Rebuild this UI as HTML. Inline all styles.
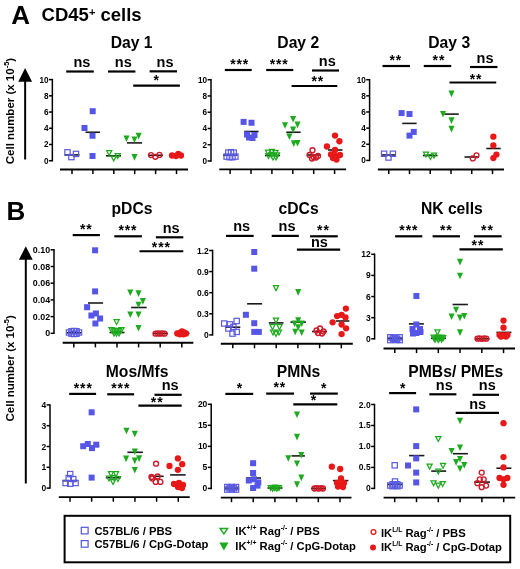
<!DOCTYPE html><html><head><meta charset="utf-8"><style>html,body{margin:0;padding:0;background:#fff;width:520px;height:569px;overflow:hidden}svg{display:block;font-family:"Liberation Sans",sans-serif;font-weight:bold}</style></head><body>
<svg width="520" height="569" viewBox="0 0 520 569" >
<rect width="520" height="569" fill="#fff"/>
<g opacity="0.999">
<text x="11.15" y="23.50" font-size="26" text-anchor="start" >A</text>
<text x="41.6" y="21.3" font-size="18.5">CD45<tspan font-size="11" dy="-5.4">+</tspan><tspan dy="5.4"> cells</tspan></text>
<text x="6.40" y="219.60" font-size="26" text-anchor="start" >B</text>
<text transform="translate(13.7,164.2) rotate(-90)" font-size="11.5">Cell number (x 10<tspan font-size="7.4" dy="-4.4">-5</tspan><tspan dy="4.4">)</tspan></text>
<line x1="25.15" y1="80.70" x2="25.15" y2="159.50" stroke="#000" stroke-width="2.0"/>
<path d="M25.15,68.0 L32.05,81.7 L18.25,81.7 Z" fill="#000"/>
<text transform="translate(13.7,421.5) rotate(-90)" font-size="11.5">Cell number (x 10<tspan font-size="7.4" dy="-4.4">-5</tspan><tspan dy="4.4">)</tspan></text>
<line x1="25.80" y1="258.70" x2="25.80" y2="483.50" stroke="#000" stroke-width="2.0"/>
<path d="M25.8,246.3 L32.7,259.7 L18.9,259.7 Z" fill="#000"/>
<line x1="52.35" y1="78.85" x2="52.35" y2="161.45" stroke="#000" stroke-width="1.5"/>
<line x1="48.95" y1="160.70" x2="52.35" y2="160.70" stroke="#000" stroke-width="1.5"/>
<text x="48.50" y="163.70" font-size="8.2" text-anchor="end" >0</text>
<line x1="48.95" y1="144.48" x2="52.35" y2="144.48" stroke="#000" stroke-width="1.5"/>
<text x="48.50" y="147.48" font-size="8.2" text-anchor="end" >2</text>
<line x1="48.95" y1="128.26" x2="52.35" y2="128.26" stroke="#000" stroke-width="1.5"/>
<text x="48.50" y="131.26" font-size="8.2" text-anchor="end" >4</text>
<line x1="48.95" y1="112.04" x2="52.35" y2="112.04" stroke="#000" stroke-width="1.5"/>
<text x="48.50" y="115.04" font-size="8.2" text-anchor="end" >6</text>
<line x1="48.95" y1="95.82" x2="52.35" y2="95.82" stroke="#000" stroke-width="1.5"/>
<text x="48.50" y="98.82" font-size="8.2" text-anchor="end" >8</text>
<line x1="48.95" y1="79.60" x2="52.35" y2="79.60" stroke="#000" stroke-width="1.5"/>
<text x="48.50" y="82.60" font-size="8.2" text-anchor="end" >10</text>
<line x1="60.00" y1="169.50" x2="188.00" y2="169.50" stroke="#000" stroke-width="1.9"/>
<line x1="72.00" y1="169.50" x2="72.00" y2="174.10" stroke="#000" stroke-width="1.5"/>
<line x1="92.90" y1="169.50" x2="92.90" y2="174.10" stroke="#000" stroke-width="1.5"/>
<line x1="113.80" y1="169.50" x2="113.80" y2="174.10" stroke="#000" stroke-width="1.5"/>
<line x1="134.70" y1="169.50" x2="134.70" y2="174.10" stroke="#000" stroke-width="1.5"/>
<line x1="155.60" y1="169.50" x2="155.60" y2="174.10" stroke="#000" stroke-width="1.5"/>
<line x1="176.50" y1="169.50" x2="176.50" y2="174.10" stroke="#000" stroke-width="1.5"/>
<line x1="64.50" y1="154.90" x2="79.50" y2="154.90" stroke="#1a1a1a" stroke-width="1.6"/>
<line x1="85.50" y1="132.25" x2="100.00" y2="132.25" stroke="#1a1a1a" stroke-width="1.6"/>
<line x1="106.00" y1="155.80" x2="121.00" y2="155.80" stroke="#1a1a1a" stroke-width="1.6"/>
<line x1="127.00" y1="142.90" x2="142.10" y2="142.90" stroke="#1a1a1a" stroke-width="1.6"/>
<line x1="148.00" y1="155.30" x2="163.00" y2="155.30" stroke="#1a1a1a" stroke-width="1.6"/>
<line x1="169.00" y1="155.50" x2="184.00" y2="155.50" stroke="#1a1a1a" stroke-width="1.6"/>
<rect x="64.85" y="149.65" width="5.30" height="5.30" fill="none" stroke="#5a5ae0" stroke-width="1.2"/>
<rect x="73.35" y="151.25" width="5.30" height="5.30" fill="none" stroke="#5a5ae0" stroke-width="1.2"/>
<rect x="68.75" y="154.45" width="5.30" height="5.30" fill="none" stroke="#5a5ae0" stroke-width="1.2"/>
<rect x="89.70" y="108.20" width="6.00" height="6.00" fill="#5555e8"/>
<rect x="81.50" y="125.00" width="6.00" height="6.00" fill="#5555e8"/>
<rect x="89.50" y="132.75" width="6.00" height="6.00" fill="#5555e8"/>
<rect x="89.50" y="153.00" width="6.00" height="6.00" fill="#5555e8"/>
<path d="M105.60,150.00 L112.80,150.00 L109.20,156.80 Z M109.20,154.13 L110.72,151.25 L107.68,151.25 Z" fill="#1eaa1e" fill-rule="evenodd"/>
<path d="M110.10,155.40 L117.30,155.40 L113.70,162.20 Z M113.70,159.53 L115.22,156.65 L112.18,156.65 Z" fill="#1eaa1e" fill-rule="evenodd"/>
<path d="M114.10,153.00 L121.30,153.00 L117.70,159.80 Z M117.70,157.13 L119.22,154.25 L116.18,154.25 Z" fill="#1eaa1e" fill-rule="evenodd"/>
<path d="M123.40,135.50 L129.50,135.50 L126.45,142.10 Z" fill="#1eaa1e"/>
<path d="M131.40,136.50 L137.50,136.50 L134.45,143.10 Z" fill="#1eaa1e"/>
<path d="M135.60,132.85 L141.70,132.85 L138.65,139.45 Z" fill="#1eaa1e"/>
<path d="M131.45,154.05 L137.55,154.05 L134.50,160.65 Z" fill="#1eaa1e"/>
<circle cx="151.00" cy="155.10" r="2.47" fill="none" stroke="#d01a28" stroke-width="1.35"/>
<circle cx="155.30" cy="156.80" r="2.47" fill="none" stroke="#d01a28" stroke-width="1.35"/>
<circle cx="159.40" cy="154.90" r="2.47" fill="none" stroke="#d01a28" stroke-width="1.35"/>
<circle cx="172.00" cy="155.50" r="3.15" fill="#e81818"/>
<circle cx="176.00" cy="156.00" r="3.15" fill="#e81818"/>
<circle cx="178.30" cy="153.80" r="3.15" fill="#e81818"/>
<circle cx="181.00" cy="155.50" r="3.15" fill="#e81818"/>
<text x="131.60" y="47.60" font-size="15.7" text-anchor="middle" >Day 1</text>
<line x1="66.20" y1="71.50" x2="93.80" y2="71.50" stroke="#000" stroke-width="2.2"/>
<text x="81.90" y="67.24" font-size="14.5" text-anchor="middle" >ns</text>
<line x1="108.00" y1="71.50" x2="135.40" y2="71.50" stroke="#000" stroke-width="2.2"/>
<text x="123.25" y="67.14" font-size="14.5" text-anchor="middle" >ns</text>
<line x1="149.60" y1="71.35" x2="177.00" y2="71.35" stroke="#000" stroke-width="2.2"/>
<text x="165.05" y="66.84" font-size="14.5" text-anchor="middle" >ns</text>
<line x1="133.20" y1="85.60" x2="179.90" y2="85.60" stroke="#000" stroke-width="2.2"/>
<text x="153.38" y="84.94" font-size="14" letter-spacing="0.9">*</text>
<line x1="211.00" y1="78.95" x2="211.00" y2="161.75" stroke="#000" stroke-width="1.5"/>
<line x1="207.60" y1="161.00" x2="211.00" y2="161.00" stroke="#000" stroke-width="1.5"/>
<text x="207.15" y="164.00" font-size="8.2" text-anchor="end" >0</text>
<line x1="207.60" y1="144.74" x2="211.00" y2="144.74" stroke="#000" stroke-width="1.5"/>
<text x="207.15" y="147.74" font-size="8.2" text-anchor="end" >2</text>
<line x1="207.60" y1="128.48" x2="211.00" y2="128.48" stroke="#000" stroke-width="1.5"/>
<text x="207.15" y="131.48" font-size="8.2" text-anchor="end" >4</text>
<line x1="207.60" y1="112.22" x2="211.00" y2="112.22" stroke="#000" stroke-width="1.5"/>
<text x="207.15" y="115.22" font-size="8.2" text-anchor="end" >6</text>
<line x1="207.60" y1="95.96" x2="211.00" y2="95.96" stroke="#000" stroke-width="1.5"/>
<text x="207.15" y="98.96" font-size="8.2" text-anchor="end" >8</text>
<line x1="207.60" y1="79.70" x2="211.00" y2="79.70" stroke="#000" stroke-width="1.5"/>
<text x="207.15" y="82.70" font-size="8.2" text-anchor="end" >10</text>
<line x1="219.30" y1="169.40" x2="346.10" y2="169.40" stroke="#000" stroke-width="1.9"/>
<line x1="230.10" y1="169.40" x2="230.10" y2="174.00" stroke="#000" stroke-width="1.5"/>
<line x1="251.00" y1="169.40" x2="251.00" y2="174.00" stroke="#000" stroke-width="1.5"/>
<line x1="271.90" y1="169.40" x2="271.90" y2="174.00" stroke="#000" stroke-width="1.5"/>
<line x1="292.80" y1="169.40" x2="292.80" y2="174.00" stroke="#000" stroke-width="1.5"/>
<line x1="313.70" y1="169.40" x2="313.70" y2="174.00" stroke="#000" stroke-width="1.5"/>
<line x1="334.60" y1="169.40" x2="334.60" y2="174.00" stroke="#000" stroke-width="1.5"/>
<line x1="223.00" y1="155.30" x2="237.50" y2="155.30" stroke="#1a1a1a" stroke-width="1.6"/>
<line x1="244.25" y1="131.50" x2="258.60" y2="131.50" stroke="#1a1a1a" stroke-width="1.6"/>
<line x1="265.00" y1="155.50" x2="280.00" y2="155.50" stroke="#1a1a1a" stroke-width="1.6"/>
<line x1="286.25" y1="132.25" x2="300.60" y2="132.25" stroke="#1a1a1a" stroke-width="1.6"/>
<line x1="307.00" y1="155.00" x2="321.00" y2="155.00" stroke="#1a1a1a" stroke-width="1.6"/>
<line x1="328.00" y1="150.00" x2="342.50" y2="150.00" stroke="#1a1a1a" stroke-width="1.6"/>
<rect x="225.65" y="149.95" width="5.30" height="5.30" fill="none" stroke="#5a5ae0" stroke-width="1.2"/>
<rect x="228.35" y="149.55" width="5.30" height="5.30" fill="none" stroke="#5a5ae0" stroke-width="1.2"/>
<rect x="231.05" y="149.95" width="5.30" height="5.30" fill="none" stroke="#5a5ae0" stroke-width="1.2"/>
<rect x="223.95" y="153.95" width="5.30" height="5.30" fill="none" stroke="#5a5ae0" stroke-width="1.2"/>
<rect x="226.85" y="154.55" width="5.30" height="5.30" fill="none" stroke="#5a5ae0" stroke-width="1.2"/>
<rect x="229.85" y="154.55" width="5.30" height="5.30" fill="none" stroke="#5a5ae0" stroke-width="1.2"/>
<rect x="232.75" y="153.95" width="5.30" height="5.30" fill="none" stroke="#5a5ae0" stroke-width="1.2"/>
<rect x="240.60" y="118.90" width="6.00" height="6.00" fill="#5555e8"/>
<rect x="248.50" y="119.75" width="6.00" height="6.00" fill="#5555e8"/>
<rect x="244.00" y="131.50" width="6.00" height="6.00" fill="#5555e8"/>
<rect x="251.50" y="132.00" width="6.00" height="6.00" fill="#5555e8"/>
<rect x="246.00" y="134.50" width="6.00" height="6.00" fill="#5555e8"/>
<rect x="249.50" y="135.00" width="6.00" height="6.00" fill="#5555e8"/>
<path d="M264.40,149.50 L271.60,149.50 L268.00,156.30 Z M268.00,153.63 L269.52,150.75 L266.48,150.75 Z" fill="#1eaa1e" fill-rule="evenodd"/>
<path d="M268.40,148.80 L275.60,148.80 L272.00,155.60 Z M272.00,152.93 L273.52,150.05 L270.48,150.05 Z" fill="#1eaa1e" fill-rule="evenodd"/>
<path d="M271.90,150.00 L279.10,150.00 L275.50,156.80 Z M275.50,154.13 L277.02,151.25 L273.98,151.25 Z" fill="#1eaa1e" fill-rule="evenodd"/>
<path d="M273.40,152.20 L280.60,152.20 L277.00,159.00 Z M277.00,156.33 L278.52,153.45 L275.48,153.45 Z" fill="#1eaa1e" fill-rule="evenodd"/>
<path d="M264.90,153.00 L272.10,153.00 L268.50,159.80 Z M268.50,157.13 L270.02,154.25 L266.98,154.25 Z" fill="#1eaa1e" fill-rule="evenodd"/>
<path d="M267.90,152.00 L275.10,152.00 L271.50,158.80 Z M271.50,156.13 L273.02,153.25 L269.98,153.25 Z" fill="#1eaa1e" fill-rule="evenodd"/>
<path d="M269.40,154.50 L276.60,154.50 L273.00,161.30 Z M273.00,158.63 L274.52,155.75 L271.48,155.75 Z" fill="#1eaa1e" fill-rule="evenodd"/>
<path d="M272.40,154.50 L279.60,154.50 L276.00,161.30 Z M276.00,158.63 L277.52,155.75 L274.48,155.75 Z" fill="#1eaa1e" fill-rule="evenodd"/>
<path d="M290.05,115.95 L296.15,115.95 L293.10,122.55 Z" fill="#1eaa1e"/>
<path d="M281.95,122.20 L288.05,122.20 L285.00,128.80 Z" fill="#1eaa1e"/>
<path d="M294.45,121.60 L300.55,121.60 L297.50,128.20 Z" fill="#1eaa1e"/>
<path d="M290.05,126.60 L296.15,126.60 L293.10,133.20 Z" fill="#1eaa1e"/>
<path d="M286.35,133.45 L292.45,133.45 L289.40,140.05 Z" fill="#1eaa1e"/>
<path d="M290.70,140.30 L296.80,140.30 L293.75,146.90 Z" fill="#1eaa1e"/>
<path d="M294.45,139.95 L300.55,139.95 L297.50,146.55 Z" fill="#1eaa1e"/>
<circle cx="312.50" cy="150.25" r="2.47" fill="none" stroke="#d01a28" stroke-width="1.35"/>
<circle cx="309.50" cy="155.00" r="2.47" fill="none" stroke="#d01a28" stroke-width="1.35"/>
<circle cx="313.50" cy="157.00" r="2.47" fill="none" stroke="#d01a28" stroke-width="1.35"/>
<circle cx="318.00" cy="156.00" r="2.47" fill="none" stroke="#d01a28" stroke-width="1.35"/>
<circle cx="312.00" cy="158.50" r="2.47" fill="none" stroke="#d01a28" stroke-width="1.35"/>
<circle cx="316.00" cy="157.50" r="2.47" fill="none" stroke="#d01a28" stroke-width="1.35"/>
<circle cx="335.00" cy="135.60" r="3.15" fill="#e81818"/>
<circle cx="339.40" cy="141.25" r="3.15" fill="#e81818"/>
<circle cx="326.90" cy="146.50" r="3.15" fill="#e81818"/>
<circle cx="335.00" cy="150.00" r="3.15" fill="#e81818"/>
<circle cx="331.00" cy="154.50" r="3.15" fill="#e81818"/>
<circle cx="336.00" cy="156.00" r="3.15" fill="#e81818"/>
<circle cx="340.00" cy="155.00" r="3.15" fill="#e81818"/>
<circle cx="333.00" cy="158.00" r="3.15" fill="#e81818"/>
<circle cx="336.50" cy="159.50" r="3.15" fill="#e81818"/>
<text x="298.25" y="47.60" font-size="15.7" text-anchor="middle" >Day 2</text>
<line x1="224.80" y1="70.00" x2="251.70" y2="70.00" stroke="#000" stroke-width="2.2"/>
<text x="230.18" y="68.64" font-size="14" letter-spacing="0.9">***</text>
<line x1="266.20" y1="70.00" x2="293.30" y2="70.00" stroke="#000" stroke-width="2.2"/>
<text x="269.63" y="68.64" font-size="14" letter-spacing="0.9">***</text>
<line x1="312.00" y1="70.50" x2="339.00" y2="70.50" stroke="#000" stroke-width="2.2"/>
<text x="327.30" y="66.34" font-size="14.5" text-anchor="middle" >ns</text>
<line x1="291.60" y1="86.00" x2="337.30" y2="86.00" stroke="#000" stroke-width="2.2"/>
<text x="311.50" y="85.94" font-size="14" letter-spacing="0.9">**</text>
<line x1="369.60" y1="78.95" x2="369.60" y2="161.15" stroke="#000" stroke-width="1.5"/>
<line x1="366.20" y1="160.40" x2="369.60" y2="160.40" stroke="#000" stroke-width="1.5"/>
<text x="365.75" y="163.40" font-size="8.2" text-anchor="end" >0</text>
<line x1="366.20" y1="144.26" x2="369.60" y2="144.26" stroke="#000" stroke-width="1.5"/>
<text x="365.75" y="147.26" font-size="8.2" text-anchor="end" >2</text>
<line x1="366.20" y1="128.12" x2="369.60" y2="128.12" stroke="#000" stroke-width="1.5"/>
<text x="365.75" y="131.12" font-size="8.2" text-anchor="end" >4</text>
<line x1="366.20" y1="111.98" x2="369.60" y2="111.98" stroke="#000" stroke-width="1.5"/>
<text x="365.75" y="114.98" font-size="8.2" text-anchor="end" >6</text>
<line x1="366.20" y1="95.84" x2="369.60" y2="95.84" stroke="#000" stroke-width="1.5"/>
<text x="365.75" y="98.84" font-size="8.2" text-anchor="end" >8</text>
<line x1="366.20" y1="79.70" x2="369.60" y2="79.70" stroke="#000" stroke-width="1.5"/>
<text x="365.75" y="82.70" font-size="8.2" text-anchor="end" >10</text>
<line x1="377.90" y1="169.50" x2="504.00" y2="169.50" stroke="#000" stroke-width="1.9"/>
<line x1="388.75" y1="169.50" x2="388.75" y2="174.10" stroke="#000" stroke-width="1.5"/>
<line x1="409.50" y1="169.50" x2="409.50" y2="174.10" stroke="#000" stroke-width="1.5"/>
<line x1="430.25" y1="169.50" x2="430.25" y2="174.10" stroke="#000" stroke-width="1.5"/>
<line x1="451.00" y1="169.50" x2="451.00" y2="174.10" stroke="#000" stroke-width="1.5"/>
<line x1="471.75" y1="169.50" x2="471.75" y2="174.10" stroke="#000" stroke-width="1.5"/>
<line x1="492.50" y1="169.50" x2="492.50" y2="174.10" stroke="#000" stroke-width="1.5"/>
<line x1="381.60" y1="155.00" x2="396.00" y2="155.00" stroke="#1a1a1a" stroke-width="1.6"/>
<line x1="402.25" y1="123.40" x2="416.60" y2="123.40" stroke="#1a1a1a" stroke-width="1.6"/>
<line x1="423.00" y1="155.50" x2="437.50" y2="155.50" stroke="#1a1a1a" stroke-width="1.6"/>
<line x1="444.40" y1="114.10" x2="458.80" y2="114.10" stroke="#1a1a1a" stroke-width="1.6"/>
<line x1="464.50" y1="157.00" x2="479.00" y2="157.00" stroke="#1a1a1a" stroke-width="1.6"/>
<line x1="486.30" y1="148.50" x2="500.70" y2="148.50" stroke="#1a1a1a" stroke-width="1.6"/>
<rect x="381.45" y="151.10" width="5.30" height="5.30" fill="none" stroke="#5a5ae0" stroke-width="1.2"/>
<rect x="390.25" y="151.10" width="5.30" height="5.30" fill="none" stroke="#5a5ae0" stroke-width="1.2"/>
<rect x="385.85" y="154.85" width="5.30" height="5.30" fill="none" stroke="#5a5ae0" stroke-width="1.2"/>
<rect x="398.60" y="110.10" width="6.00" height="6.00" fill="#5555e8"/>
<rect x="406.50" y="111.00" width="6.00" height="6.00" fill="#5555e8"/>
<rect x="410.75" y="128.90" width="6.00" height="6.00" fill="#5555e8"/>
<rect x="406.50" y="132.60" width="6.00" height="6.00" fill="#5555e8"/>
<path d="M422.40,151.50 L429.60,151.50 L426.00,158.30 Z M426.00,155.63 L427.52,152.75 L424.48,152.75 Z" fill="#1eaa1e" fill-rule="evenodd"/>
<path d="M426.90,154.00 L434.10,154.00 L430.50,160.80 Z M430.50,158.13 L432.02,155.25 L428.98,155.25 Z" fill="#1eaa1e" fill-rule="evenodd"/>
<path d="M430.40,152.50 L437.60,152.50 L434.00,159.30 Z M434.00,156.63 L435.52,153.75 L432.48,153.75 Z" fill="#1eaa1e" fill-rule="evenodd"/>
<path d="M448.45,90.60 L454.55,90.60 L451.50,97.20 Z" fill="#1eaa1e"/>
<path d="M439.95,111.00 L446.05,111.00 L443.00,117.60 Z" fill="#1eaa1e"/>
<path d="M448.45,117.30 L454.55,117.30 L451.50,123.90 Z" fill="#1eaa1e"/>
<path d="M448.45,125.80 L454.55,125.80 L451.50,132.40 Z" fill="#1eaa1e"/>
<circle cx="472.80" cy="158.40" r="2.47" fill="none" stroke="#d01a28" stroke-width="1.35"/>
<circle cx="476.50" cy="155.30" r="2.47" fill="none" stroke="#d01a28" stroke-width="1.35"/>
<circle cx="493.35" cy="136.70" r="3.15" fill="#e81818"/>
<circle cx="493.35" cy="145.40" r="3.15" fill="#e81818"/>
<circle cx="496.40" cy="154.60" r="3.15" fill="#e81818"/>
<circle cx="493.35" cy="158.10" r="3.15" fill="#e81818"/>
<text x="449.20" y="47.60" font-size="15.7" text-anchor="middle" >Day 3</text>
<line x1="382.50" y1="66.00" x2="410.00" y2="66.00" stroke="#000" stroke-width="2.2"/>
<text x="389.50" y="64.53" font-size="14" letter-spacing="0.9">**</text>
<line x1="423.75" y1="66.00" x2="451.25" y2="66.00" stroke="#000" stroke-width="2.2"/>
<text x="432.60" y="64.53" font-size="14" letter-spacing="0.9">**</text>
<line x1="470.00" y1="67.00" x2="497.50" y2="67.00" stroke="#000" stroke-width="2.2"/>
<text x="485.00" y="63.34" font-size="14.5" text-anchor="middle" >ns</text>
<line x1="449.50" y1="82.50" x2="496.25" y2="82.50" stroke="#000" stroke-width="2.2"/>
<text x="469.70" y="83.53" font-size="14" letter-spacing="0.9">**</text>
<line x1="54.00" y1="249.05" x2="54.00" y2="334.05" stroke="#000" stroke-width="1.5"/>
<line x1="50.60" y1="333.30" x2="54.00" y2="333.30" stroke="#000" stroke-width="1.5"/>
<text x="50.15" y="336.30" font-size="8.9" text-anchor="end" >0</text>
<line x1="50.60" y1="316.60" x2="54.00" y2="316.60" stroke="#000" stroke-width="1.5"/>
<text x="50.15" y="319.60" font-size="8.9" text-anchor="end" >0.02</text>
<line x1="50.60" y1="299.90" x2="54.00" y2="299.90" stroke="#000" stroke-width="1.5"/>
<text x="50.15" y="302.90" font-size="8.9" text-anchor="end" >0.04</text>
<line x1="50.60" y1="283.20" x2="54.00" y2="283.20" stroke="#000" stroke-width="1.5"/>
<text x="50.15" y="286.20" font-size="8.9" text-anchor="end" >0.06</text>
<line x1="50.60" y1="266.50" x2="54.00" y2="266.50" stroke="#000" stroke-width="1.5"/>
<text x="50.15" y="269.50" font-size="8.9" text-anchor="end" >0.08</text>
<line x1="50.60" y1="249.80" x2="54.00" y2="249.80" stroke="#000" stroke-width="1.5"/>
<text x="50.15" y="252.80" font-size="8.9" text-anchor="end" >0.10</text>
<line x1="62.70" y1="342.80" x2="193.30" y2="342.80" stroke="#000" stroke-width="1.9"/>
<line x1="73.80" y1="342.80" x2="73.80" y2="347.40" stroke="#000" stroke-width="1.5"/>
<line x1="95.40" y1="342.80" x2="95.40" y2="347.40" stroke="#000" stroke-width="1.5"/>
<line x1="117.00" y1="342.80" x2="117.00" y2="347.40" stroke="#000" stroke-width="1.5"/>
<line x1="138.60" y1="342.80" x2="138.60" y2="347.40" stroke="#000" stroke-width="1.5"/>
<line x1="160.20" y1="342.80" x2="160.20" y2="347.40" stroke="#000" stroke-width="1.5"/>
<line x1="181.80" y1="342.80" x2="181.80" y2="347.40" stroke="#000" stroke-width="1.5"/>
<line x1="67.00" y1="332.80" x2="81.50" y2="332.80" stroke="#1a1a1a" stroke-width="1.6"/>
<line x1="88.00" y1="303.00" x2="103.10" y2="303.00" stroke="#1a1a1a" stroke-width="1.6"/>
<line x1="109.50" y1="332.50" x2="124.50" y2="332.50" stroke="#1a1a1a" stroke-width="1.6"/>
<line x1="131.20" y1="307.50" x2="146.70" y2="307.50" stroke="#1a1a1a" stroke-width="1.6"/>
<line x1="153.00" y1="333.50" x2="168.00" y2="333.50" stroke="#1a1a1a" stroke-width="1.6"/>
<line x1="174.50" y1="333.30" x2="189.50" y2="333.30" stroke="#1a1a1a" stroke-width="1.6"/>
<rect x="66.35" y="329.85" width="5.30" height="5.30" fill="none" stroke="#5a5ae0" stroke-width="1.2"/>
<rect x="68.85" y="328.65" width="5.30" height="5.30" fill="none" stroke="#5a5ae0" stroke-width="1.2"/>
<rect x="71.35" y="328.35" width="5.30" height="5.30" fill="none" stroke="#5a5ae0" stroke-width="1.2"/>
<rect x="73.85" y="328.65" width="5.30" height="5.30" fill="none" stroke="#5a5ae0" stroke-width="1.2"/>
<rect x="76.35" y="329.85" width="5.30" height="5.30" fill="none" stroke="#5a5ae0" stroke-width="1.2"/>
<rect x="68.85" y="331.05" width="5.30" height="5.30" fill="none" stroke="#5a5ae0" stroke-width="1.2"/>
<rect x="71.35" y="331.35" width="5.30" height="5.30" fill="none" stroke="#5a5ae0" stroke-width="1.2"/>
<rect x="73.85" y="331.05" width="5.30" height="5.30" fill="none" stroke="#5a5ae0" stroke-width="1.2"/>
<rect x="92.10" y="247.30" width="6.00" height="6.00" fill="#5555e8"/>
<rect x="92.10" y="288.40" width="6.00" height="6.00" fill="#5555e8"/>
<rect x="84.10" y="304.20" width="6.00" height="6.00" fill="#5555e8"/>
<rect x="88.40" y="312.50" width="6.00" height="6.00" fill="#5555e8"/>
<rect x="92.90" y="310.50" width="6.00" height="6.00" fill="#5555e8"/>
<rect x="97.10" y="315.50" width="6.00" height="6.00" fill="#5555e8"/>
<rect x="92.40" y="320.50" width="6.00" height="6.00" fill="#5555e8"/>
<path d="M113.00,319.00 L120.20,319.00 L116.60,325.80 Z M116.60,323.13 L118.12,320.25 L115.08,320.25 Z" fill="#1eaa1e" fill-rule="evenodd"/>
<path d="M107.90,327.00 L115.10,327.00 L111.50,333.80 Z M111.50,331.13 L113.02,328.25 L109.98,328.25 Z" fill="#1eaa1e" fill-rule="evenodd"/>
<path d="M110.20,327.80 L117.40,327.80 L113.80,334.60 Z M113.80,331.93 L115.32,329.05 L112.28,329.05 Z" fill="#1eaa1e" fill-rule="evenodd"/>
<path d="M112.90,328.00 L120.10,328.00 L116.50,334.80 Z M116.50,332.13 L118.02,329.25 L114.98,329.25 Z" fill="#1eaa1e" fill-rule="evenodd"/>
<path d="M115.60,327.80 L122.80,327.80 L119.20,334.60 Z M119.20,331.93 L120.72,329.05 L117.68,329.05 Z" fill="#1eaa1e" fill-rule="evenodd"/>
<path d="M117.90,327.00 L125.10,327.00 L121.50,333.80 Z M121.50,331.13 L123.02,328.25 L119.98,328.25 Z" fill="#1eaa1e" fill-rule="evenodd"/>
<path d="M110.40,330.50 L117.60,330.50 L114.00,337.30 Z M114.00,334.63 L115.52,331.75 L112.48,331.75 Z" fill="#1eaa1e" fill-rule="evenodd"/>
<path d="M112.90,330.80 L120.10,330.80 L116.50,337.60 Z M116.50,334.93 L118.02,332.05 L114.98,332.05 Z" fill="#1eaa1e" fill-rule="evenodd"/>
<path d="M115.40,330.50 L122.60,330.50 L119.00,337.30 Z M119.00,334.63 L120.52,331.75 L117.48,331.75 Z" fill="#1eaa1e" fill-rule="evenodd"/>
<path d="M127.25,289.50 L133.35,289.50 L130.30,296.10 Z" fill="#1eaa1e"/>
<path d="M135.45,290.30 L141.55,290.30 L138.50,296.90 Z" fill="#1eaa1e"/>
<path d="M139.85,298.10 L145.95,298.10 L142.90,304.70 Z" fill="#1eaa1e"/>
<path d="M135.45,301.70 L141.55,301.70 L138.50,308.30 Z" fill="#1eaa1e"/>
<path d="M127.25,311.50 L133.35,311.50 L130.30,318.10 Z" fill="#1eaa1e"/>
<path d="M135.45,311.50 L141.55,311.50 L138.50,318.10 Z" fill="#1eaa1e"/>
<path d="M135.45,324.90 L141.55,324.90 L138.50,331.50 Z" fill="#1eaa1e"/>
<circle cx="155.50" cy="333.70" r="2.47" fill="none" stroke="#d01a28" stroke-width="1.35"/>
<circle cx="157.75" cy="333.40" r="2.47" fill="none" stroke="#d01a28" stroke-width="1.35"/>
<circle cx="160.00" cy="333.70" r="2.47" fill="none" stroke="#d01a28" stroke-width="1.35"/>
<circle cx="162.25" cy="333.40" r="2.47" fill="none" stroke="#d01a28" stroke-width="1.35"/>
<circle cx="164.50" cy="333.70" r="2.47" fill="none" stroke="#d01a28" stroke-width="1.35"/>
<circle cx="177.30" cy="333.50" r="3.15" fill="#e81818"/>
<circle cx="180.00" cy="332.80" r="3.15" fill="#e81818"/>
<circle cx="182.00" cy="331.30" r="3.15" fill="#e81818"/>
<circle cx="184.00" cy="332.50" r="3.15" fill="#e81818"/>
<circle cx="186.00" cy="333.50" r="3.15" fill="#e81818"/>
<circle cx="180.00" cy="334.30" r="3.15" fill="#e81818"/>
<circle cx="183.50" cy="334.30" r="3.15" fill="#e81818"/>
<text x="132.00" y="214.00" font-size="15.7" text-anchor="middle" >pDCs</text>
<line x1="72.70" y1="235.10" x2="99.90" y2="235.10" stroke="#000" stroke-width="2.2"/>
<text x="80.00" y="234.23" font-size="14" letter-spacing="0.9">**</text>
<line x1="114.30" y1="236.30" x2="141.90" y2="236.30" stroke="#000" stroke-width="2.2"/>
<text x="118.43" y="235.44" font-size="14" letter-spacing="0.9">***</text>
<line x1="155.90" y1="237.30" x2="183.30" y2="237.30" stroke="#000" stroke-width="2.2"/>
<text x="171.10" y="233.09" font-size="14.5" text-anchor="middle" >ns</text>
<line x1="139.50" y1="251.25" x2="183.30" y2="251.25" stroke="#000" stroke-width="2.2"/>
<text x="151.83" y="251.53" font-size="14" letter-spacing="0.9">***</text>
<line x1="212.60" y1="249.75" x2="212.60" y2="335.65" stroke="#000" stroke-width="1.5"/>
<line x1="209.20" y1="334.90" x2="212.60" y2="334.90" stroke="#000" stroke-width="1.5"/>
<text x="208.75" y="337.90" font-size="8.5" text-anchor="end" >0</text>
<line x1="209.20" y1="313.80" x2="212.60" y2="313.80" stroke="#000" stroke-width="1.5"/>
<text x="208.75" y="316.80" font-size="8.5" text-anchor="end" >0.3</text>
<line x1="209.20" y1="292.70" x2="212.60" y2="292.70" stroke="#000" stroke-width="1.5"/>
<text x="208.75" y="295.70" font-size="8.5" text-anchor="end" >0.6</text>
<line x1="209.20" y1="271.60" x2="212.60" y2="271.60" stroke="#000" stroke-width="1.5"/>
<text x="208.75" y="274.60" font-size="8.5" text-anchor="end" >0.9</text>
<line x1="209.20" y1="250.50" x2="212.60" y2="250.50" stroke="#000" stroke-width="1.5"/>
<text x="208.75" y="253.50" font-size="8.5" text-anchor="end" >1.2</text>
<line x1="220.80" y1="343.70" x2="352.80" y2="343.70" stroke="#000" stroke-width="1.9"/>
<line x1="232.80" y1="343.70" x2="232.80" y2="348.30" stroke="#000" stroke-width="1.5"/>
<line x1="254.50" y1="343.70" x2="254.50" y2="348.30" stroke="#000" stroke-width="1.5"/>
<line x1="276.20" y1="343.70" x2="276.20" y2="348.30" stroke="#000" stroke-width="1.5"/>
<line x1="297.90" y1="343.70" x2="297.90" y2="348.30" stroke="#000" stroke-width="1.5"/>
<line x1="319.60" y1="343.70" x2="319.60" y2="348.30" stroke="#000" stroke-width="1.5"/>
<line x1="341.30" y1="343.70" x2="341.30" y2="348.30" stroke="#000" stroke-width="1.5"/>
<line x1="225.30" y1="327.20" x2="240.30" y2="327.20" stroke="#1a1a1a" stroke-width="1.6"/>
<line x1="247.10" y1="303.80" x2="262.10" y2="303.80" stroke="#1a1a1a" stroke-width="1.6"/>
<line x1="268.80" y1="322.90" x2="283.50" y2="322.90" stroke="#1a1a1a" stroke-width="1.6"/>
<line x1="290.50" y1="322.10" x2="305.90" y2="322.10" stroke="#1a1a1a" stroke-width="1.6"/>
<line x1="312.00" y1="331.50" x2="327.00" y2="331.50" stroke="#1a1a1a" stroke-width="1.6"/>
<line x1="335.80" y1="321.00" x2="349.40" y2="321.00" stroke="#1a1a1a" stroke-width="1.6"/>
<rect x="221.55" y="320.85" width="5.30" height="5.30" fill="none" stroke="#5a5ae0" stroke-width="1.2"/>
<rect x="227.35" y="321.75" width="5.30" height="5.30" fill="none" stroke="#5a5ae0" stroke-width="1.2"/>
<rect x="234.05" y="318.35" width="5.30" height="5.30" fill="none" stroke="#5a5ae0" stroke-width="1.2"/>
<rect x="225.75" y="325.85" width="5.30" height="5.30" fill="none" stroke="#5a5ae0" stroke-width="1.2"/>
<rect x="234.05" y="329.25" width="5.30" height="5.30" fill="none" stroke="#5a5ae0" stroke-width="1.2"/>
<rect x="229.85" y="330.95" width="5.30" height="5.30" fill="none" stroke="#5a5ae0" stroke-width="1.2"/>
<rect x="230.75" y="324.25" width="5.30" height="5.30" fill="none" stroke="#5a5ae0" stroke-width="1.2"/>
<rect x="251.25" y="249.00" width="6.00" height="6.00" fill="#5555e8"/>
<rect x="251.25" y="265.70" width="6.00" height="6.00" fill="#5555e8"/>
<rect x="242.90" y="311.80" width="6.00" height="6.00" fill="#5555e8"/>
<rect x="251.25" y="320.20" width="6.00" height="6.00" fill="#5555e8"/>
<rect x="251.25" y="328.90" width="6.00" height="6.00" fill="#5555e8"/>
<rect x="255.80" y="328.90" width="6.00" height="6.00" fill="#5555e8"/>
<path d="M272.40,285.10 L279.60,285.10 L276.00,291.90 Z M276.00,289.23 L277.52,286.35 L274.48,286.35 Z" fill="#1eaa1e" fill-rule="evenodd"/>
<path d="M272.40,317.50 L279.60,317.50 L276.00,324.30 Z M276.00,321.63 L277.52,318.75 L274.48,318.75 Z" fill="#1eaa1e" fill-rule="evenodd"/>
<path d="M268.90,324.00 L276.10,324.00 L272.50,330.80 Z M272.50,328.13 L274.02,325.25 L270.98,325.25 Z" fill="#1eaa1e" fill-rule="evenodd"/>
<path d="M275.90,324.00 L283.10,324.00 L279.50,330.80 Z M279.50,328.13 L281.02,325.25 L277.98,325.25 Z" fill="#1eaa1e" fill-rule="evenodd"/>
<path d="M269.40,329.50 L276.60,329.50 L273.00,336.30 Z M273.00,333.63 L274.52,330.75 L271.48,330.75 Z" fill="#1eaa1e" fill-rule="evenodd"/>
<path d="M275.40,329.50 L282.60,329.50 L279.00,336.30 Z M279.00,333.63 L280.52,330.75 L277.48,330.75 Z" fill="#1eaa1e" fill-rule="evenodd"/>
<path d="M272.40,331.00 L279.60,331.00 L276.00,337.80 Z M276.00,335.13 L277.52,332.25 L274.48,332.25 Z" fill="#1eaa1e" fill-rule="evenodd"/>
<path d="M295.15,289.10 L301.25,289.10 L298.20,295.70 Z" fill="#1eaa1e"/>
<path d="M295.15,317.20 L301.25,317.20 L298.20,323.80 Z" fill="#1eaa1e"/>
<path d="M291.55,320.40 L297.65,320.40 L294.60,327.00 Z" fill="#1eaa1e"/>
<path d="M298.65,320.40 L304.75,320.40 L301.70,327.00 Z" fill="#1eaa1e"/>
<path d="M295.15,324.20 L301.25,324.20 L298.20,330.80 Z" fill="#1eaa1e"/>
<path d="M292.15,328.70 L298.25,328.70 L295.20,335.30 Z" fill="#1eaa1e"/>
<path d="M298.65,329.40 L304.75,329.40 L301.70,336.00 Z" fill="#1eaa1e"/>
<circle cx="316.50" cy="330.50" r="2.47" fill="none" stroke="#d01a28" stroke-width="1.35"/>
<circle cx="320.00" cy="328.50" r="2.47" fill="none" stroke="#d01a28" stroke-width="1.35"/>
<circle cx="323.50" cy="331.50" r="2.47" fill="none" stroke="#d01a28" stroke-width="1.35"/>
<circle cx="318.00" cy="333.00" r="2.47" fill="none" stroke="#d01a28" stroke-width="1.35"/>
<circle cx="322.00" cy="333.50" r="2.47" fill="none" stroke="#d01a28" stroke-width="1.35"/>
<circle cx="345.90" cy="308.60" r="3.15" fill="#e81818"/>
<circle cx="337.10" cy="316.10" r="3.15" fill="#e81818"/>
<circle cx="341.60" cy="314.80" r="3.15" fill="#e81818"/>
<circle cx="345.50" cy="317.40" r="3.15" fill="#e81818"/>
<circle cx="332.60" cy="322.30" r="3.15" fill="#e81818"/>
<circle cx="341.60" cy="324.50" r="3.15" fill="#e81818"/>
<circle cx="346.10" cy="328.30" r="3.15" fill="#e81818"/>
<circle cx="341.60" cy="334.10" r="3.15" fill="#e81818"/>
<text x="298.60" y="214.00" font-size="15.7" text-anchor="middle" >cDCs</text>
<line x1="226.00" y1="235.90" x2="253.70" y2="235.90" stroke="#000" stroke-width="2.2"/>
<text x="241.60" y="231.39" font-size="14.5" text-anchor="middle" >ns</text>
<line x1="271.70" y1="235.90" x2="298.80" y2="235.90" stroke="#000" stroke-width="2.2"/>
<text x="287.00" y="231.39" font-size="14.5" text-anchor="middle" >ns</text>
<line x1="310.10" y1="236.30" x2="337.80" y2="236.30" stroke="#000" stroke-width="2.2"/>
<text x="317.10" y="234.94" font-size="14" letter-spacing="0.9">**</text>
<line x1="296.90" y1="249.60" x2="340.20" y2="249.60" stroke="#000" stroke-width="2.2"/>
<text x="319.40" y="246.89" font-size="14.5" text-anchor="middle" >ns</text>
<line x1="374.60" y1="253.55" x2="374.60" y2="339.55" stroke="#000" stroke-width="1.5"/>
<line x1="371.20" y1="338.80" x2="374.60" y2="338.80" stroke="#000" stroke-width="1.5"/>
<text x="370.75" y="341.80" font-size="8.5" text-anchor="end" >0</text>
<line x1="371.20" y1="317.68" x2="374.60" y2="317.68" stroke="#000" stroke-width="1.5"/>
<text x="370.75" y="320.68" font-size="8.5" text-anchor="end" >3</text>
<line x1="371.20" y1="296.55" x2="374.60" y2="296.55" stroke="#000" stroke-width="1.5"/>
<text x="370.75" y="299.55" font-size="8.5" text-anchor="end" >6</text>
<line x1="371.20" y1="275.43" x2="374.60" y2="275.43" stroke="#000" stroke-width="1.5"/>
<text x="370.75" y="278.43" font-size="8.5" text-anchor="end" >9</text>
<line x1="371.20" y1="254.30" x2="374.60" y2="254.30" stroke="#000" stroke-width="1.5"/>
<text x="370.75" y="257.30" font-size="8.5" text-anchor="end" >12</text>
<line x1="383.50" y1="348.50" x2="515.05" y2="348.50" stroke="#000" stroke-width="1.9"/>
<line x1="394.80" y1="348.50" x2="394.80" y2="353.10" stroke="#000" stroke-width="1.5"/>
<line x1="416.55" y1="348.50" x2="416.55" y2="353.10" stroke="#000" stroke-width="1.5"/>
<line x1="438.30" y1="348.50" x2="438.30" y2="353.10" stroke="#000" stroke-width="1.5"/>
<line x1="460.05" y1="348.50" x2="460.05" y2="353.10" stroke="#000" stroke-width="1.5"/>
<line x1="481.80" y1="348.50" x2="481.80" y2="353.10" stroke="#000" stroke-width="1.5"/>
<line x1="503.55" y1="348.50" x2="503.55" y2="353.10" stroke="#000" stroke-width="1.5"/>
<line x1="387.30" y1="338.60" x2="402.30" y2="338.60" stroke="#1a1a1a" stroke-width="1.6"/>
<line x1="408.90" y1="323.90" x2="423.90" y2="323.90" stroke="#1a1a1a" stroke-width="1.6"/>
<line x1="431.00" y1="338.30" x2="446.00" y2="338.30" stroke="#1a1a1a" stroke-width="1.6"/>
<line x1="452.60" y1="304.50" x2="467.90" y2="304.50" stroke="#1a1a1a" stroke-width="1.6"/>
<line x1="475.00" y1="338.80" x2="489.50" y2="338.80" stroke="#1a1a1a" stroke-width="1.6"/>
<line x1="496.40" y1="332.40" x2="511.40" y2="332.40" stroke="#1a1a1a" stroke-width="1.6"/>
<rect x="387.65" y="334.65" width="5.30" height="5.30" fill="none" stroke="#5a5ae0" stroke-width="1.2"/>
<rect x="387.65" y="337.45" width="5.30" height="5.30" fill="none" stroke="#5a5ae0" stroke-width="1.2"/>
<rect x="397.05" y="334.65" width="5.30" height="5.30" fill="none" stroke="#5a5ae0" stroke-width="1.2"/>
<rect x="397.05" y="337.45" width="5.30" height="5.30" fill="none" stroke="#5a5ae0" stroke-width="1.2"/>
<rect x="390.35" y="336.05" width="5.30" height="5.30" fill="none" stroke="#5a5ae0" stroke-width="1.2"/>
<rect x="392.35" y="334.95" width="5.30" height="5.30" fill="none" stroke="#5a5ae0" stroke-width="1.2"/>
<rect x="394.35" y="336.05" width="5.30" height="5.30" fill="none" stroke="#5a5ae0" stroke-width="1.2"/>
<rect x="392.35" y="337.25" width="5.30" height="5.30" fill="none" stroke="#5a5ae0" stroke-width="1.2"/>
<rect x="390.35" y="334.95" width="5.30" height="5.30" fill="none" stroke="#5a5ae0" stroke-width="1.2"/>
<rect x="394.35" y="337.25" width="5.30" height="5.30" fill="none" stroke="#5a5ae0" stroke-width="1.2"/>
<rect x="413.40" y="293.00" width="6.00" height="6.00" fill="#5555e8"/>
<rect x="413.40" y="321.50" width="6.00" height="6.00" fill="#5555e8"/>
<rect x="409.50" y="326.00" width="6.00" height="6.00" fill="#5555e8"/>
<rect x="417.00" y="326.00" width="6.00" height="6.00" fill="#5555e8"/>
<rect x="413.40" y="330.00" width="6.00" height="6.00" fill="#5555e8"/>
<rect x="410.00" y="330.50" width="6.00" height="6.00" fill="#5555e8"/>
<rect x="417.50" y="329.00" width="6.00" height="6.00" fill="#5555e8"/>
<path d="M433.90,329.30 L441.10,329.30 L437.50,336.10 Z M437.50,333.43 L439.02,330.55 L435.98,330.55 Z" fill="#1eaa1e" fill-rule="evenodd"/>
<path d="M430.00,334.60 L437.20,334.60 L433.60,341.40 Z M433.60,338.73 L435.12,335.85 L432.08,335.85 Z" fill="#1eaa1e" fill-rule="evenodd"/>
<path d="M432.00,335.40 L439.20,335.40 L435.60,342.20 Z M435.60,339.53 L437.12,336.65 L434.08,336.65 Z" fill="#1eaa1e" fill-rule="evenodd"/>
<path d="M434.00,334.60 L441.20,334.60 L437.60,341.40 Z M437.60,338.73 L439.12,335.85 L436.08,335.85 Z" fill="#1eaa1e" fill-rule="evenodd"/>
<path d="M436.00,335.40 L443.20,335.40 L439.60,342.20 Z M439.60,339.53 L441.12,336.65 L438.08,336.65 Z" fill="#1eaa1e" fill-rule="evenodd"/>
<path d="M438.00,334.60 L445.20,334.60 L441.60,341.40 Z M441.60,338.73 L443.12,335.85 L440.08,335.85 Z" fill="#1eaa1e" fill-rule="evenodd"/>
<path d="M439.60,334.90 L446.80,334.90 L443.20,341.70 Z M443.20,339.03 L444.72,336.15 L441.68,336.15 Z" fill="#1eaa1e" fill-rule="evenodd"/>
<path d="M431.40,336.60 L438.60,336.60 L435.00,343.40 Z M435.00,340.73 L436.52,337.85 L433.48,337.85 Z" fill="#1eaa1e" fill-rule="evenodd"/>
<path d="M434.70,336.90 L441.90,336.90 L438.30,343.70 Z M438.30,341.03 L439.82,338.15 L436.78,338.15 Z" fill="#1eaa1e" fill-rule="evenodd"/>
<path d="M438.00,336.60 L445.20,336.60 L441.60,343.40 Z M441.60,340.73 L443.12,337.85 L440.08,337.85 Z" fill="#1eaa1e" fill-rule="evenodd"/>
<path d="M456.95,258.80 L463.05,258.80 L460.00,265.40 Z" fill="#1eaa1e"/>
<path d="M456.95,272.70 L463.05,272.70 L460.00,279.30 Z" fill="#1eaa1e"/>
<path d="M453.05,306.70 L459.15,306.70 L456.10,313.30 Z" fill="#1eaa1e"/>
<path d="M448.55,313.50 L454.65,313.50 L451.60,320.10 Z" fill="#1eaa1e"/>
<path d="M456.95,314.60 L463.05,314.60 L460.00,321.20 Z" fill="#1eaa1e"/>
<path d="M461.25,313.00 L467.35,313.00 L464.30,319.60 Z" fill="#1eaa1e"/>
<path d="M456.95,329.30 L463.05,329.30 L460.00,335.90 Z" fill="#1eaa1e"/>
<circle cx="477.50" cy="338.70" r="2.47" fill="none" stroke="#d01a28" stroke-width="1.35"/>
<circle cx="479.50" cy="338.40" r="2.47" fill="none" stroke="#d01a28" stroke-width="1.35"/>
<circle cx="481.80" cy="338.80" r="2.47" fill="none" stroke="#d01a28" stroke-width="1.35"/>
<circle cx="484.00" cy="338.40" r="2.47" fill="none" stroke="#d01a28" stroke-width="1.35"/>
<circle cx="486.30" cy="338.70" r="2.47" fill="none" stroke="#d01a28" stroke-width="1.35"/>
<circle cx="503.50" cy="320.60" r="3.15" fill="#e81818"/>
<circle cx="503.50" cy="327.70" r="3.15" fill="#e81818"/>
<circle cx="499.50" cy="335.00" r="3.15" fill="#e81818"/>
<circle cx="503.50" cy="335.50" r="3.15" fill="#e81818"/>
<circle cx="507.50" cy="335.00" r="3.15" fill="#e81818"/>
<circle cx="501.00" cy="336.50" r="3.15" fill="#e81818"/>
<circle cx="506.00" cy="336.50" r="3.15" fill="#e81818"/>
<text x="451.85" y="214.00" font-size="15.7" text-anchor="middle" >NK cells</text>
<line x1="395.10" y1="236.30" x2="422.30" y2="236.30" stroke="#000" stroke-width="2.2"/>
<text x="399.33" y="234.73" font-size="14" letter-spacing="0.9">***</text>
<line x1="432.60" y1="236.30" x2="460.00" y2="236.30" stroke="#000" stroke-width="2.2"/>
<text x="439.90" y="234.73" font-size="14" letter-spacing="0.9">**</text>
<line x1="473.90" y1="236.30" x2="501.60" y2="236.30" stroke="#000" stroke-width="2.2"/>
<text x="481.10" y="234.73" font-size="14" letter-spacing="0.9">**</text>
<line x1="459.50" y1="249.30" x2="502.80" y2="249.30" stroke="#000" stroke-width="2.2"/>
<text x="471.60" y="250.34" font-size="14" letter-spacing="0.9">**</text>
<line x1="50.00" y1="404.15" x2="50.00" y2="488.85" stroke="#000" stroke-width="1.5"/>
<line x1="46.60" y1="488.10" x2="50.00" y2="488.10" stroke="#000" stroke-width="1.5"/>
<text x="46.15" y="491.10" font-size="8.5" text-anchor="end" >0</text>
<line x1="46.60" y1="467.30" x2="50.00" y2="467.30" stroke="#000" stroke-width="1.5"/>
<text x="46.15" y="470.30" font-size="8.5" text-anchor="end" >1</text>
<line x1="46.60" y1="446.50" x2="50.00" y2="446.50" stroke="#000" stroke-width="1.5"/>
<text x="46.15" y="449.50" font-size="8.5" text-anchor="end" >2</text>
<line x1="46.60" y1="425.70" x2="50.00" y2="425.70" stroke="#000" stroke-width="1.5"/>
<text x="46.15" y="428.70" font-size="8.5" text-anchor="end" >3</text>
<line x1="46.60" y1="404.90" x2="50.00" y2="404.90" stroke="#000" stroke-width="1.5"/>
<text x="46.15" y="407.90" font-size="8.5" text-anchor="end" >4</text>
<line x1="58.80" y1="497.10" x2="189.75" y2="497.10" stroke="#000" stroke-width="1.9"/>
<line x1="70.00" y1="497.10" x2="70.00" y2="501.70" stroke="#000" stroke-width="1.5"/>
<line x1="91.65" y1="497.10" x2="91.65" y2="501.70" stroke="#000" stroke-width="1.5"/>
<line x1="113.30" y1="497.10" x2="113.30" y2="501.70" stroke="#000" stroke-width="1.5"/>
<line x1="134.95" y1="497.10" x2="134.95" y2="501.70" stroke="#000" stroke-width="1.5"/>
<line x1="156.60" y1="497.10" x2="156.60" y2="501.70" stroke="#000" stroke-width="1.5"/>
<line x1="178.25" y1="497.10" x2="178.25" y2="501.70" stroke="#000" stroke-width="1.5"/>
<line x1="62.50" y1="480.70" x2="77.50" y2="480.70" stroke="#1a1a1a" stroke-width="1.6"/>
<line x1="84.30" y1="446.00" x2="99.30" y2="446.00" stroke="#1a1a1a" stroke-width="1.6"/>
<line x1="105.80" y1="477.70" x2="120.80" y2="477.70" stroke="#1a1a1a" stroke-width="1.6"/>
<line x1="127.40" y1="452.30" x2="142.90" y2="452.30" stroke="#1a1a1a" stroke-width="1.6"/>
<line x1="148.90" y1="476.30" x2="163.70" y2="476.30" stroke="#1a1a1a" stroke-width="1.6"/>
<line x1="170.10" y1="474.90" x2="185.70" y2="474.90" stroke="#1a1a1a" stroke-width="1.6"/>
<rect x="67.55" y="471.45" width="5.30" height="5.30" fill="none" stroke="#5a5ae0" stroke-width="1.2"/>
<rect x="66.05" y="475.45" width="5.30" height="5.30" fill="none" stroke="#5a5ae0" stroke-width="1.2"/>
<rect x="70.65" y="476.45" width="5.30" height="5.30" fill="none" stroke="#5a5ae0" stroke-width="1.2"/>
<rect x="62.95" y="480.35" width="5.30" height="5.30" fill="none" stroke="#5a5ae0" stroke-width="1.2"/>
<rect x="67.55" y="481.05" width="5.30" height="5.30" fill="none" stroke="#5a5ae0" stroke-width="1.2"/>
<rect x="72.95" y="480.35" width="5.30" height="5.30" fill="none" stroke="#5a5ae0" stroke-width="1.2"/>
<rect x="88.65" y="409.30" width="6.00" height="6.00" fill="#5555e8"/>
<rect x="80.20" y="443.20" width="6.00" height="6.00" fill="#5555e8"/>
<rect x="84.80" y="441.00" width="6.00" height="6.00" fill="#5555e8"/>
<rect x="89.00" y="445.10" width="6.00" height="6.00" fill="#5555e8"/>
<rect x="93.20" y="441.70" width="6.00" height="6.00" fill="#5555e8"/>
<rect x="88.65" y="474.60" width="6.00" height="6.00" fill="#5555e8"/>
<path d="M107.40,471.00 L114.60,471.00 L111.00,477.80 Z M111.00,475.13 L112.52,472.25 L109.48,472.25 Z" fill="#1eaa1e" fill-rule="evenodd"/>
<path d="M112.40,471.00 L119.60,471.00 L116.00,477.80 Z M116.00,475.13 L117.52,472.25 L114.48,472.25 Z" fill="#1eaa1e" fill-rule="evenodd"/>
<path d="M105.40,475.50 L112.60,475.50 L109.00,482.30 Z M109.00,479.63 L110.52,476.75 L107.48,476.75 Z" fill="#1eaa1e" fill-rule="evenodd"/>
<path d="M110.40,475.00 L117.60,475.00 L114.00,481.80 Z M114.00,479.13 L115.52,476.25 L112.48,476.25 Z" fill="#1eaa1e" fill-rule="evenodd"/>
<path d="M114.40,476.00 L121.60,476.00 L118.00,482.80 Z M118.00,480.13 L119.52,477.25 L116.48,477.25 Z" fill="#1eaa1e" fill-rule="evenodd"/>
<path d="M109.40,479.00 L116.60,479.00 L113.00,485.80 Z M113.00,483.13 L114.52,480.25 L111.48,480.25 Z" fill="#1eaa1e" fill-rule="evenodd"/>
<path d="M123.45,427.70 L129.55,427.70 L126.50,434.30 Z" fill="#1eaa1e"/>
<path d="M131.75,430.70 L137.85,430.70 L134.80,437.30 Z" fill="#1eaa1e"/>
<path d="M131.75,448.40 L137.85,448.40 L134.80,455.00 Z" fill="#1eaa1e"/>
<path d="M123.05,455.60 L129.15,455.60 L126.10,462.20 Z" fill="#1eaa1e"/>
<path d="M131.75,457.60 L137.85,457.60 L134.80,464.20 Z" fill="#1eaa1e"/>
<path d="M136.05,455.30 L142.15,455.30 L139.10,461.90 Z" fill="#1eaa1e"/>
<path d="M131.75,467.00 L137.85,467.00 L134.80,473.60 Z" fill="#1eaa1e"/>
<circle cx="156.10" cy="463.70" r="2.47" fill="none" stroke="#d01a28" stroke-width="1.35"/>
<circle cx="152.30" cy="478.60" r="2.47" fill="none" stroke="#d01a28" stroke-width="1.35"/>
<circle cx="157.70" cy="476.50" r="2.47" fill="none" stroke="#d01a28" stroke-width="1.35"/>
<circle cx="155.70" cy="481.90" r="2.47" fill="none" stroke="#d01a28" stroke-width="1.35"/>
<circle cx="160.40" cy="481.90" r="2.47" fill="none" stroke="#d01a28" stroke-width="1.35"/>
<circle cx="151.50" cy="477.00" r="2.47" fill="none" stroke="#d01a28" stroke-width="1.35"/>
<circle cx="177.90" cy="458.40" r="3.15" fill="#e81818"/>
<circle cx="182.20" cy="464.20" r="3.15" fill="#e81818"/>
<circle cx="169.50" cy="466.00" r="3.15" fill="#e81818"/>
<circle cx="177.90" cy="469.80" r="3.15" fill="#e81818"/>
<circle cx="174.00" cy="484.00" r="3.15" fill="#e81818"/>
<circle cx="179.00" cy="483.00" r="3.15" fill="#e81818"/>
<circle cx="183.00" cy="485.00" r="3.15" fill="#e81818"/>
<circle cx="178.00" cy="487.00" r="3.15" fill="#e81818"/>
<circle cx="182.00" cy="488.00" r="3.15" fill="#e81818"/>
<text x="137.15" y="376.50" font-size="15.7" text-anchor="middle" >Mos/Mfs</text>
<line x1="69.20" y1="393.90" x2="96.10" y2="393.90" stroke="#000" stroke-width="2.2"/>
<text x="73.73" y="393.44" font-size="14" letter-spacing="0.9">***</text>
<line x1="107.20" y1="394.30" x2="134.10" y2="394.30" stroke="#000" stroke-width="2.2"/>
<text x="111.23" y="393.44" font-size="14" letter-spacing="0.9">***</text>
<line x1="154.50" y1="394.80" x2="181.70" y2="394.80" stroke="#000" stroke-width="2.2"/>
<text x="170.20" y="390.49" font-size="14.5" text-anchor="middle" >ns</text>
<line x1="138.40" y1="405.60" x2="181.70" y2="405.60" stroke="#000" stroke-width="2.2"/>
<text x="150.80" y="407.44" font-size="14" letter-spacing="0.9">**</text>
<line x1="211.20" y1="403.55" x2="211.20" y2="489.15" stroke="#000" stroke-width="1.5"/>
<line x1="207.80" y1="488.40" x2="211.20" y2="488.40" stroke="#000" stroke-width="1.5"/>
<text x="207.35" y="491.40" font-size="8.5" text-anchor="end" >0</text>
<line x1="207.80" y1="467.38" x2="211.20" y2="467.38" stroke="#000" stroke-width="1.5"/>
<text x="207.35" y="470.38" font-size="8.5" text-anchor="end" >5</text>
<line x1="207.80" y1="446.35" x2="211.20" y2="446.35" stroke="#000" stroke-width="1.5"/>
<text x="207.35" y="449.35" font-size="8.5" text-anchor="end" >10</text>
<line x1="207.80" y1="425.32" x2="211.20" y2="425.32" stroke="#000" stroke-width="1.5"/>
<text x="207.35" y="428.32" font-size="8.5" text-anchor="end" >15</text>
<line x1="207.80" y1="404.30" x2="211.20" y2="404.30" stroke="#000" stroke-width="1.5"/>
<text x="207.35" y="407.30" font-size="8.5" text-anchor="end" >20</text>
<line x1="220.80" y1="497.60" x2="351.50" y2="497.60" stroke="#000" stroke-width="1.9"/>
<line x1="231.50" y1="497.60" x2="231.50" y2="502.20" stroke="#000" stroke-width="1.5"/>
<line x1="253.20" y1="497.60" x2="253.20" y2="502.20" stroke="#000" stroke-width="1.5"/>
<line x1="274.90" y1="497.60" x2="274.90" y2="502.20" stroke="#000" stroke-width="1.5"/>
<line x1="296.60" y1="497.60" x2="296.60" y2="502.20" stroke="#000" stroke-width="1.5"/>
<line x1="318.30" y1="497.60" x2="318.30" y2="502.20" stroke="#000" stroke-width="1.5"/>
<line x1="340.00" y1="497.60" x2="340.00" y2="502.20" stroke="#000" stroke-width="1.5"/>
<line x1="224.00" y1="488.00" x2="239.00" y2="488.00" stroke="#1a1a1a" stroke-width="1.6"/>
<line x1="246.10" y1="478.00" x2="261.00" y2="478.00" stroke="#1a1a1a" stroke-width="1.6"/>
<line x1="267.50" y1="488.00" x2="282.50" y2="488.00" stroke="#1a1a1a" stroke-width="1.6"/>
<line x1="291.50" y1="455.90" x2="304.90" y2="455.90" stroke="#1a1a1a" stroke-width="1.6"/>
<line x1="311.00" y1="488.40" x2="326.00" y2="488.40" stroke="#1a1a1a" stroke-width="1.6"/>
<line x1="332.90" y1="480.60" x2="348.40" y2="480.60" stroke="#1a1a1a" stroke-width="1.6"/>
<rect x="224.65" y="484.35" width="5.30" height="5.30" fill="none" stroke="#5a5ae0" stroke-width="1.2"/>
<rect x="224.65" y="486.95" width="5.30" height="5.30" fill="none" stroke="#5a5ae0" stroke-width="1.2"/>
<rect x="226.85" y="485.65" width="5.30" height="5.30" fill="none" stroke="#5a5ae0" stroke-width="1.2"/>
<rect x="229.05" y="484.35" width="5.30" height="5.30" fill="none" stroke="#5a5ae0" stroke-width="1.2"/>
<rect x="229.05" y="486.95" width="5.30" height="5.30" fill="none" stroke="#5a5ae0" stroke-width="1.2"/>
<rect x="231.25" y="485.65" width="5.30" height="5.30" fill="none" stroke="#5a5ae0" stroke-width="1.2"/>
<rect x="233.35" y="484.35" width="5.30" height="5.30" fill="none" stroke="#5a5ae0" stroke-width="1.2"/>
<rect x="233.35" y="486.95" width="5.30" height="5.30" fill="none" stroke="#5a5ae0" stroke-width="1.2"/>
<rect x="250.10" y="460.20" width="6.00" height="6.00" fill="#5555e8"/>
<rect x="250.10" y="470.00" width="6.00" height="6.00" fill="#5555e8"/>
<rect x="245.80" y="477.50" width="6.00" height="6.00" fill="#5555e8"/>
<rect x="251.00" y="476.30" width="6.00" height="6.00" fill="#5555e8"/>
<rect x="255.30" y="479.40" width="6.00" height="6.00" fill="#5555e8"/>
<rect x="250.10" y="485.00" width="6.00" height="6.00" fill="#5555e8"/>
<rect x="254.50" y="482.60" width="6.00" height="6.00" fill="#5555e8"/>
<path d="M267.10,485.00 L274.30,485.00 L270.70,491.80 Z M270.70,489.13 L272.22,486.25 L269.18,486.25 Z" fill="#1eaa1e" fill-rule="evenodd"/>
<path d="M269.10,485.60 L276.30,485.60 L272.70,492.40 Z M272.70,489.73 L274.22,486.85 L271.18,486.85 Z" fill="#1eaa1e" fill-rule="evenodd"/>
<path d="M271.20,485.00 L278.40,485.00 L274.80,491.80 Z M274.80,489.13 L276.32,486.25 L273.28,486.25 Z" fill="#1eaa1e" fill-rule="evenodd"/>
<path d="M273.30,485.60 L280.50,485.60 L276.90,492.40 Z M276.90,489.73 L278.42,486.85 L275.38,486.85 Z" fill="#1eaa1e" fill-rule="evenodd"/>
<path d="M275.40,485.00 L282.60,485.00 L279.00,491.80 Z M279.00,489.13 L280.52,486.25 L277.48,486.25 Z" fill="#1eaa1e" fill-rule="evenodd"/>
<path d="M271.40,484.40 L278.60,484.40 L275.00,491.20 Z M275.00,488.53 L276.52,485.65 L273.48,485.65 Z" fill="#1eaa1e" fill-rule="evenodd"/>
<path d="M293.95,411.40 L300.05,411.40 L297.00,418.00 Z" fill="#1eaa1e"/>
<path d="M293.95,433.80 L300.05,433.80 L297.00,440.40 Z" fill="#1eaa1e"/>
<path d="M285.25,455.20 L291.35,455.20 L288.30,461.80 Z" fill="#1eaa1e"/>
<path d="M298.25,452.00 L304.35,452.00 L301.30,458.60 Z" fill="#1eaa1e"/>
<path d="M293.95,460.40 L300.05,460.40 L297.00,467.00 Z" fill="#1eaa1e"/>
<path d="M298.25,474.60 L304.35,474.60 L301.30,481.20 Z" fill="#1eaa1e"/>
<path d="M293.95,481.30 L300.05,481.30 L297.00,487.90 Z" fill="#1eaa1e"/>
<circle cx="314.50" cy="488.50" r="2.47" fill="none" stroke="#d01a28" stroke-width="1.35"/>
<circle cx="316.50" cy="488.20" r="2.47" fill="none" stroke="#d01a28" stroke-width="1.35"/>
<circle cx="318.70" cy="488.60" r="2.47" fill="none" stroke="#d01a28" stroke-width="1.35"/>
<circle cx="320.80" cy="488.20" r="2.47" fill="none" stroke="#d01a28" stroke-width="1.35"/>
<circle cx="323.00" cy="488.50" r="2.47" fill="none" stroke="#d01a28" stroke-width="1.35"/>
<circle cx="331.80" cy="466.70" r="3.15" fill="#e81818"/>
<circle cx="340.20" cy="469.00" r="3.15" fill="#e81818"/>
<circle cx="341.00" cy="478.50" r="3.15" fill="#e81818"/>
<circle cx="337.00" cy="483.00" r="3.15" fill="#e81818"/>
<circle cx="344.00" cy="483.00" r="3.15" fill="#e81818"/>
<circle cx="338.00" cy="486.50" r="3.15" fill="#e81818"/>
<circle cx="343.00" cy="487.00" r="3.15" fill="#e81818"/>
<circle cx="340.50" cy="485.00" r="3.15" fill="#e81818"/>
<text x="298.50" y="376.50" font-size="15.7" text-anchor="middle" >PMNs</text>
<line x1="225.30" y1="393.90" x2="253.20" y2="393.90" stroke="#000" stroke-width="2.2"/>
<text x="236.78" y="393.44" font-size="14" letter-spacing="0.9">*</text>
<line x1="266.20" y1="393.60" x2="294.00" y2="393.60" stroke="#000" stroke-width="2.2"/>
<text x="273.50" y="392.24" font-size="14" letter-spacing="0.9">**</text>
<line x1="310.10" y1="393.60" x2="337.80" y2="393.60" stroke="#000" stroke-width="2.2"/>
<text x="320.88" y="392.94" font-size="14" letter-spacing="0.9">*</text>
<line x1="293.30" y1="404.40" x2="337.30" y2="404.40" stroke="#000" stroke-width="2.2"/>
<text x="310.78" y="405.44" font-size="14" letter-spacing="0.9">*</text>
<line x1="374.50" y1="403.75" x2="374.50" y2="489.15" stroke="#000" stroke-width="1.5"/>
<line x1="371.10" y1="488.40" x2="374.50" y2="488.40" stroke="#000" stroke-width="1.5"/>
<text x="370.65" y="491.40" font-size="8.5" text-anchor="end" >0</text>
<line x1="371.10" y1="467.42" x2="374.50" y2="467.42" stroke="#000" stroke-width="1.5"/>
<text x="370.65" y="470.42" font-size="8.5" text-anchor="end" >0.5</text>
<line x1="371.10" y1="446.45" x2="374.50" y2="446.45" stroke="#000" stroke-width="1.5"/>
<text x="370.65" y="449.45" font-size="8.5" text-anchor="end" >1.0</text>
<line x1="371.10" y1="425.48" x2="374.50" y2="425.48" stroke="#000" stroke-width="1.5"/>
<text x="370.65" y="428.48" font-size="8.5" text-anchor="end" >1.5</text>
<line x1="371.10" y1="404.50" x2="374.50" y2="404.50" stroke="#000" stroke-width="1.5"/>
<text x="370.65" y="407.50" font-size="8.5" text-anchor="end" >2.0</text>
<line x1="383.60" y1="497.60" x2="515.20" y2="497.60" stroke="#000" stroke-width="1.9"/>
<line x1="394.70" y1="497.60" x2="394.70" y2="502.20" stroke="#000" stroke-width="1.5"/>
<line x1="416.50" y1="497.60" x2="416.50" y2="502.20" stroke="#000" stroke-width="1.5"/>
<line x1="438.30" y1="497.60" x2="438.30" y2="502.20" stroke="#000" stroke-width="1.5"/>
<line x1="460.10" y1="497.60" x2="460.10" y2="502.20" stroke="#000" stroke-width="1.5"/>
<line x1="481.90" y1="497.60" x2="481.90" y2="502.20" stroke="#000" stroke-width="1.5"/>
<line x1="503.70" y1="497.60" x2="503.70" y2="502.20" stroke="#000" stroke-width="1.5"/>
<line x1="387.20" y1="484.50" x2="402.20" y2="484.50" stroke="#1a1a1a" stroke-width="1.6"/>
<line x1="409.10" y1="455.60" x2="424.40" y2="455.60" stroke="#1a1a1a" stroke-width="1.6"/>
<line x1="431.20" y1="471.10" x2="446.20" y2="471.10" stroke="#1a1a1a" stroke-width="1.6"/>
<line x1="452.90" y1="453.70" x2="467.90" y2="453.70" stroke="#1a1a1a" stroke-width="1.6"/>
<line x1="474.20" y1="482.10" x2="490.00" y2="482.10" stroke="#1a1a1a" stroke-width="1.6"/>
<line x1="496.40" y1="468.20" x2="511.40" y2="468.20" stroke="#1a1a1a" stroke-width="1.6"/>
<rect x="392.05" y="462.65" width="5.30" height="5.30" fill="none" stroke="#5a5ae0" stroke-width="1.2"/>
<rect x="392.35" y="478.85" width="5.30" height="5.30" fill="none" stroke="#5a5ae0" stroke-width="1.2"/>
<rect x="387.65" y="482.85" width="5.30" height="5.30" fill="none" stroke="#5a5ae0" stroke-width="1.2"/>
<rect x="389.95" y="483.55" width="5.30" height="5.30" fill="none" stroke="#5a5ae0" stroke-width="1.2"/>
<rect x="392.35" y="482.85" width="5.30" height="5.30" fill="none" stroke="#5a5ae0" stroke-width="1.2"/>
<rect x="394.75" y="483.55" width="5.30" height="5.30" fill="none" stroke="#5a5ae0" stroke-width="1.2"/>
<rect x="397.05" y="482.85" width="5.30" height="5.30" fill="none" stroke="#5a5ae0" stroke-width="1.2"/>
<rect x="389.95" y="481.65" width="5.30" height="5.30" fill="none" stroke="#5a5ae0" stroke-width="1.2"/>
<rect x="394.75" y="481.65" width="5.30" height="5.30" fill="none" stroke="#5a5ae0" stroke-width="1.2"/>
<rect x="413.20" y="406.40" width="6.00" height="6.00" fill="#5555e8"/>
<rect x="413.20" y="443.10" width="6.00" height="6.00" fill="#5555e8"/>
<rect x="413.20" y="455.40" width="6.00" height="6.00" fill="#5555e8"/>
<rect x="405.00" y="462.50" width="6.00" height="6.00" fill="#5555e8"/>
<rect x="413.20" y="469.60" width="6.00" height="6.00" fill="#5555e8"/>
<rect x="413.20" y="479.40" width="6.00" height="6.00" fill="#5555e8"/>
<path d="M434.70,436.00 L441.90,436.00 L438.30,442.80 Z M438.30,440.13 L439.82,437.25 L436.78,437.25 Z" fill="#1eaa1e" fill-rule="evenodd"/>
<path d="M426.00,463.60 L433.20,463.60 L429.60,470.40 Z M429.60,467.73 L431.12,464.85 L428.08,464.85 Z" fill="#1eaa1e" fill-rule="evenodd"/>
<path d="M439.40,462.80 L446.60,462.80 L443.00,469.60 Z M443.00,466.93 L444.52,464.05 L441.48,464.05 Z" fill="#1eaa1e" fill-rule="evenodd"/>
<path d="M434.70,468.40 L441.90,468.40 L438.30,475.20 Z M438.30,472.53 L439.82,469.65 L436.78,469.65 Z" fill="#1eaa1e" fill-rule="evenodd"/>
<path d="M430.00,480.20 L437.20,480.20 L433.60,487.00 Z M433.60,484.33 L435.12,481.45 L432.08,481.45 Z" fill="#1eaa1e" fill-rule="evenodd"/>
<path d="M434.70,482.60 L441.90,482.60 L438.30,489.40 Z M438.30,486.73 L439.82,483.85 L436.78,483.85 Z" fill="#1eaa1e" fill-rule="evenodd"/>
<path d="M439.10,481.00 L446.30,481.00 L442.70,487.80 Z M442.70,485.13 L444.22,482.25 L441.18,482.25 Z" fill="#1eaa1e" fill-rule="evenodd"/>
<path d="M456.95,417.70 L463.05,417.70 L460.00,424.30 Z" fill="#1eaa1e"/>
<path d="M456.95,444.50 L463.05,444.50 L460.00,451.10 Z" fill="#1eaa1e"/>
<path d="M448.55,448.00 L454.65,448.00 L451.60,454.60 Z" fill="#1eaa1e"/>
<path d="M456.95,455.90 L463.05,455.90 L460.00,462.50 Z" fill="#1eaa1e"/>
<path d="M453.05,459.10 L459.15,459.10 L456.10,465.70 Z" fill="#1eaa1e"/>
<path d="M461.25,461.90 L467.35,461.90 L464.30,468.50 Z" fill="#1eaa1e"/>
<path d="M456.95,465.40 L463.05,465.40 L460.00,472.00 Z" fill="#1eaa1e"/>
<circle cx="481.70" cy="472.60" r="2.47" fill="none" stroke="#d01a28" stroke-width="1.35"/>
<circle cx="479.80" cy="479.30" r="2.47" fill="none" stroke="#d01a28" stroke-width="1.35"/>
<circle cx="483.70" cy="479.30" r="2.47" fill="none" stroke="#d01a28" stroke-width="1.35"/>
<circle cx="477.40" cy="483.20" r="2.47" fill="none" stroke="#d01a28" stroke-width="1.35"/>
<circle cx="486.10" cy="485.60" r="2.47" fill="none" stroke="#d01a28" stroke-width="1.35"/>
<circle cx="481.70" cy="487.20" r="2.47" fill="none" stroke="#d01a28" stroke-width="1.35"/>
<circle cx="503.50" cy="423.20" r="3.15" fill="#e81818"/>
<circle cx="503.50" cy="457.10" r="3.15" fill="#e81818"/>
<circle cx="503.50" cy="467.40" r="3.15" fill="#e81818"/>
<circle cx="499.50" cy="478.00" r="3.15" fill="#e81818"/>
<circle cx="507.40" cy="478.00" r="3.15" fill="#e81818"/>
<circle cx="503.50" cy="479.30" r="3.15" fill="#e81818"/>
<circle cx="503.50" cy="484.80" r="3.15" fill="#e81818"/>
<text x="455.85" y="376.70" font-size="15.7" text-anchor="middle" >PMBs/ PMEs</text>
<line x1="389.10" y1="393.10" x2="416.10" y2="393.10" stroke="#000" stroke-width="2.2"/>
<text x="400.08" y="392.74" font-size="14" letter-spacing="0.9">*</text>
<line x1="429.30" y1="394.30" x2="456.40" y2="394.30" stroke="#000" stroke-width="2.2"/>
<text x="444.30" y="390.24" font-size="14.5" text-anchor="middle" >ns</text>
<line x1="472.50" y1="394.80" x2="499.00" y2="394.80" stroke="#000" stroke-width="2.2"/>
<text x="487.30" y="390.49" font-size="14.5" text-anchor="middle" >ns</text>
<line x1="455.70" y1="412.90" x2="499.00" y2="412.90" stroke="#000" stroke-width="2.2"/>
<text x="477.70" y="408.89" font-size="14.5" text-anchor="middle" >ns</text>
<rect x="64.6" y="515.8" width="445.6" height="46.5" fill="none" stroke="#000" stroke-width="2"/>
<rect x="81.3" y="527.3" width="6.8" height="6.6" fill="none" stroke="#5555e8" stroke-width="1.2"/>
<rect x="81.3" y="540.6" width="6.8" height="6.6" fill="none" stroke="#5555e8" stroke-width="1.2"/>
<text x="94.5" y="534.8" font-size="11.25">C57BL/6 / PBS</text>
<text x="94.5" y="548.3" font-size="11.25">C57BL/6 / CpG-Dotap</text>
<path d="M220.2,528.6 L227.6,528.6 L223.9,534.0 Z" fill="none" stroke="#1eaa1e" stroke-width="1.5"/>
<path d="M219.3,542.6 L228.5,542.6 L223.9,550.4 Z" fill="#1eaa1e"/>
<text x="235.3" y="535.0" font-size="11.25">IK<tspan font-size="6.8" dy="-4.6">+/+</tspan><tspan dy="4.6"> Rag</tspan><tspan font-size="6.8" dy="-4.6">-/-</tspan><tspan dy="4.6"> / PBS</tspan></text>
<text x="235.3" y="550.0" font-size="11.25">IK<tspan font-size="6.8" dy="-4.6">+/+</tspan><tspan dy="4.6"> Rag</tspan><tspan font-size="6.8" dy="-4.6">-/-</tspan><tspan dy="4.6"> / CpG-Dotap</tspan></text>
<circle cx="373.5" cy="532.1" r="2.4" fill="none" stroke="#e81818" stroke-width="1.3"/>
<circle cx="373.0" cy="547.4" r="3.0" fill="#e81818"/>
<text x="380.9" y="536.5" font-size="11.25">IK<tspan font-size="6.8" dy="-4.6">L/L</tspan><tspan dy="4.6"> Rag</tspan><tspan font-size="6.8" dy="-4.6">-/-</tspan><tspan dy="4.6"> / PBS</tspan></text>
<text x="380.9" y="551.0" font-size="11.25">IK<tspan font-size="6.8" dy="-4.6">L/L</tspan><tspan dy="4.6"> Rag</tspan><tspan font-size="6.8" dy="-4.6">-/-</tspan><tspan dy="4.6"> / CpG-Dotap</tspan></text>
</g></svg></body></html>
